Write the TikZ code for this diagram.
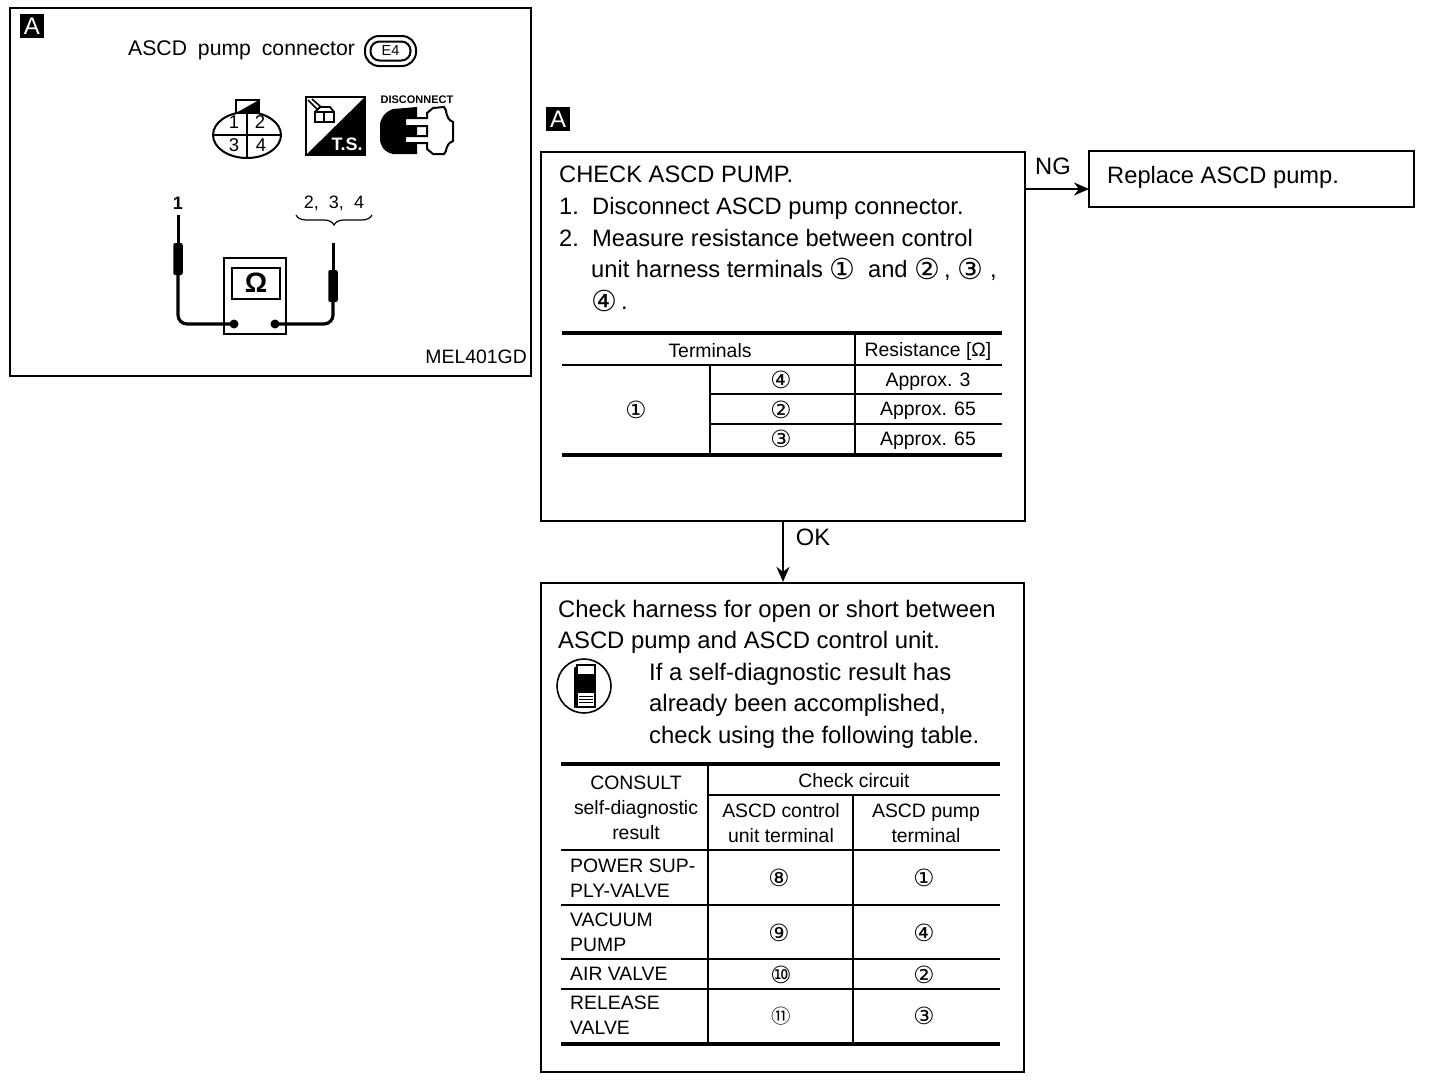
\documentclass[tikz,border=0pt]{standalone}
\usepackage{fontspec}
\setmainfont{Liberation Sans}
\newfontfamily\circfont[Scale=1.22]{DejaVu Sans}
\newfontfamily\circcjk{Noto Sans CJK SC}
\usetikzlibrary{arrows.meta,positioning,shapes.geometric,decorations.pathreplacing}
\newcommand{\cnum}[1]{{\circfont #1}}
\newcommand{\bnum}[1]{\raisebox{-2pt}{\cnum{#1}}}
\newcommand{\fsize}[2]{\fontsize{#1}{#2}\selectfont}
\tikzset{
  outerbox/.style={
    rectangle, draw=black, line width=1.8pt, inner sep=0pt
  },
  tagbox/.style={
    rectangle, fill=black, text=white, minimum size=24pt,
    inner sep=0pt, font=\fsize{24}{24}
  },
  bodytext/.style={
    inner sep=0pt, align=left, font=\fsize{23.7}{31.7}
  },
  cellnode/.style={
    inner sep=0pt, align=center, font=\fsize{19.4}{25}
  },
  leftcell/.style={
    inner sep=0pt, align=left, font=\fsize{19.4}{25}
  },
  smallnum/.style={
    inner sep=0pt, font=\fsize{18.5}{20}
  },
  labelnode/.style={
    inner sep=0pt, font=\fsize{18}{20}
  },
  dataarrow/.style={
    -{Stealth[length=15pt,width=13pt]}, line width=2pt
  },
  wire/.style={
    line width=3.2pt, rounded corners=9pt
  },
  lead/.style={
    rectangle, fill=black, rounded corners=2pt, minimum width=9.5pt,
    minimum height=32pt, inner sep=0pt
  },
  meterdot/.style={
    circle, fill=black, minimum size=9pt, inner sep=0pt
  },
  rulethin/.style={line width=1.6pt},
  rulethick/.style={line width=3.6pt},
}
\begin{document}
\begin{tikzpicture}[x=1pt,y=-1pt]
  \useasboundingbox (0,0) rectangle (1440,1080);

  % left panel
  \node[outerbox, minimum width=521pt, minimum height=368pt] (panel) at (270.5,192) {};
  \node[tagbox] (tagleft) at (32,26) {A};
  \node[inner sep=0pt, anchor=west, font=\fsize{21.2}{22}] (pumptitle) at (128,50.5)
    {ASCD\hspace{5pt} pump\hspace{5pt} connector};
  \node[rectangle, draw, line width=2pt, rounded corners=9pt, minimum width=40pt,
    minimum height=19pt, inner sep=0pt, font=\fsize{14.5}{14}] (pill) at (390.5,51) {E4};
  \draw[line width=2pt, rounded corners=14pt] (365,36) rectangle (416,66);

  % connector face
  \node[ellipse, draw, line width=2pt, minimum width=68pt, minimum height=46pt,
    inner sep=0pt] (face) at (247,135) {};
  \draw[line width=2pt] (236,113) rectangle (259,100);
  \fill (236,113) -- (259,100) -- (259,113) -- cycle;
  \draw[line width=2pt] (247,112) -- (247,158) (213,135) -- (281,135);
  \node[smallnum] (pina) at (234,122) {1};
  \node[smallnum] (pinb) at (260,122) {2};
  \node[smallnum] (pinc) at (234,145) {3};
  \node[smallnum] (pind) at (261,145) {4};

  % T.S. icon
  \draw[line width=2pt] (306,97) rectangle (365,155);
  \fill (306,155) -- (365,97) -- (365,155) -- cycle;
  \node[inner sep=0pt, text=white, font=\bfseries\fsize{18}{18}] (tslabel) at (347,144) {T.S.};
  \draw[line width=1.8pt] (315,112) rectangle (324,122) (324,112) rectangle (334,122)
    (315,112) -- (320,107) -- (330,107) -- (334,112);
  \draw[line width=1.6pt] (308,100) -- (318,110) (312,99) -- (321,107);

  % disconnect icon
  \node[inner sep=0pt, font=\bfseries\fsize{11}{11}] (disc) at (417,99.5) {DISCONNECT};
  \fill (393,109) -- (417,107) -- (417,154) -- (393,154)
    .. controls (384,152) and (380,146) .. (380,138) -- (380,126)
    .. controls (380,118) and (385,112) .. (393,109) -- cycle;
  \draw[line width=2pt, fill=white] (417,118) -- (427,118) -- (427,113) -- (433,108) -- (444,107)
    .. controls (448,110) and (444,118) .. (453,122) -- (453,141)
    .. controls (444,145) and (448,151) .. (444,154) -- (433,154) -- (427,149)
    -- (427,143) -- (405,143) -- (405,136) -- (427,136) -- (427,126) -- (405,126)
    -- (405,118) -- cycle;

  % meter
  \node[rectangle, draw, line width=2pt, minimum width=62pt, minimum height=76pt,
    inner sep=0pt] (meter) at (255,296) {};
  \node[rectangle, draw, line width=2pt, minimum width=48pt, minimum height=31pt,
    inner sep=0pt, font=\bfseries\fsize{28}{28}] (screen) at (256,283) {Ω};
  \node[meterdot] (dotl) at (234,324) {};
  \node[meterdot] (dotr) at (275,324) {};
  \node[lead] (gripl) at (178,259) {};
  \node[lead] (gripr) at (333,286) {};
  \coordinate (tipl) at (178,215);
  \coordinate (tipr) at (333,243);
  \draw[wire] (dotl.center) -| (gripl.south);
  \draw[wire] (dotr.center) -| (gripr.south);
  \draw[line width=3pt] (gripl) -- (tipl);
  \draw[line width=3pt] (gripr) -- (tipr);
  \node[labelnode, font=\bfseries\fsize{18}{20}] (labone) at (178,203) {1};
  \node[labelnode] (labrest) at (334,203) {2,\hspace{5pt} 3,\hspace{5pt} 4};
  \coordinate (bracel) at (296,215);
  \coordinate (bracer) at (372,215);
  \draw[decorate, decoration={brace, amplitude=10pt, mirror}, line width=1.2pt] (bracel) -- (bracer);
  \node[inner sep=0pt, anchor=east, font=\fsize{19.4}{20}] (partno) at (527,357) {MEL401GD};

  % check box
  \node[tagbox] (tagright) at (558,119) {A};
  \node[outerbox, minimum width=484pt, minimum height=369pt] (check) at (783,336.5) {};
  \node[bodytext, anchor=north west] (checktext) at (559,166) {%
    CHECK ASCD PUMP.\\
    \makebox[33pt][l]{1.}Disconnect ASCD pump connector.\\
    \makebox[33pt][l]{2.}Measure resistance between control\\
    \hspace*{32pt}unit harness terminals \bnum{①}\hspace{6pt} and \bnum{②}\,, \bnum{③}\hspace{7pt},\\
    \hspace*{32pt}\bnum{④}\,.};

  % first table
  \draw[rulethick] (562,333) -- (1002,333);
  \draw[rulethin] (562,365) -- (1002,365) (710,394) -- (1002,394) (710,424) -- (1002,424);
  \draw[rulethick] (562,455) -- (1002,455);
  \draw[rulethin] (855,333) -- (855,455) (710,365) -- (710,455);
  \node[cellnode] (termhead) at (710,350.5) {Terminals};
  \node[cellnode] (reshead) at (928,351.5) {Resistance [Ω]};
  \node[cellnode] (terma) at (636,410) {\cnum{①}};
  \node[cellnode] (termd) at (781,380) {\cnum{④}};
  \node[cellnode] (termb) at (781,410) {\cnum{②}};
  \node[cellnode] (termc) at (781,439) {\cnum{③}};
  \node[cellnode] (resd) at (928,381.5) {Approx. 3};
  \node[cellnode] (resb) at (928,410.5) {Approx. 65};
  \node[cellnode] (resc) at (928,440.5) {Approx. 65};

  % replace box and arrows
  \node[outerbox, minimum width=325pt, minimum height=56pt] (replace) at (1251.5,179) {};
  \node[bodytext, anchor=west] (replacetext) at (1107,177) {Replace ASCD pump.};
  \coordinate (ngend) at (1089,189);
  \draw[dataarrow] (check.east |- ngend) -- (ngend);
  \node[bodytext] (nglabel) at (1053,166) {NG};
  \node[outerbox, below=60pt of check, xshift=-0.5pt, minimum width=483pt, minimum height=489pt] (harness) {};
  \draw[dataarrow] (check.south) -- (check.south |- harness.north);
  \node[bodytext] (oklabel) at (813,537) {OK};

  % harness box
  \node[bodytext, anchor=north west, font=\fsize{23.85}{31.5}] (harnesstext) at (558,600) {%
    Check harness for open or short between\\
    ASCD pump and ASCD control unit.};
  \node[bodytext, anchor=north west, font=\fsize{23.85}{31.5}] (consulttext) at (649,663) {%
    If a self-diagnostic result has\\
    already been accomplished,\\
    check using the following table.};

  % consult icon
  \node[circle, draw, line width=1.6pt, minimum size=54pt, inner sep=0pt] (tooldisc) at (584,686) {};
  \fill (574,668) -- (578,665) -- (578,707) -- (574,708) -- cycle;
  \node[rectangle, draw, fill=white, line width=1.8pt, minimum width=18pt,
    minimum height=42pt, inner sep=0pt] (toolbody) at (586,686) {};
  \fill (578,674) rectangle (594,693);
  \draw[line width=1pt] (579,696) -- (593,696) (579,699) -- (593,699) (579,702) -- (593,702);

  % second table
  \draw[rulethick] (561,764) -- (1000,764);
  \draw[rulethin] (708,795) -- (1000,795);
  \draw[rulethin] (561,850) -- (1000,850) (561,905) -- (1000,905) (561,959) -- (1000,959)
    (561,989) -- (1000,989);
  \draw[rulethick] (561,1044) -- (1000,1044);
  \draw[rulethin] (708,764) -- (708,1044) (853,795) -- (853,1044);
  \node[cellnode, font=\fsize{19.4}{25.2}] (consulthead) at (636,808) {CONSULT\\self-diagnostic\\result};
  \node[cellnode] (circhead) at (854,781) {Check circuit};
  \node[cellnode] (unithead) at (781,823) {ASCD control\\unit terminal};
  \node[cellnode] (pumphead) at (926,823) {ASCD pump\\terminal};
  \node[leftcell, anchor=west] (rowa) at (570,878) {POWER SUP-\\PLY-VALVE};
  \node[leftcell, anchor=west] (rowb) at (570,932) {VACUUM\\PUMP};
  \node[leftcell, anchor=west] (rowc) at (570,974) {AIR VALVE};
  \node[leftcell, anchor=west] (rowd) at (570,1015) {RELEASE\\VALVE};
  \node[cellnode] (unita) at (779,878) {\cnum{⑧}};
  \node[cellnode] (unitb) at (779,933) {\cnum{⑨}};
  \node[cellnode] (unitc) at (781,975) {\cnum{⑩}};
  \node[cellnode] (unitd) at (781,1016) {{\circcjk ⑪}};
  \node[cellnode] (pumpa) at (924,878) {\cnum{①}};
  \node[cellnode] (pumpb) at (924,933) {\cnum{④}};
  \node[cellnode] (pumpc) at (924,975) {\cnum{②}};
  \node[cellnode] (pumpd) at (924,1016) {\cnum{③}};
\end{tikzpicture}
\end{document}
